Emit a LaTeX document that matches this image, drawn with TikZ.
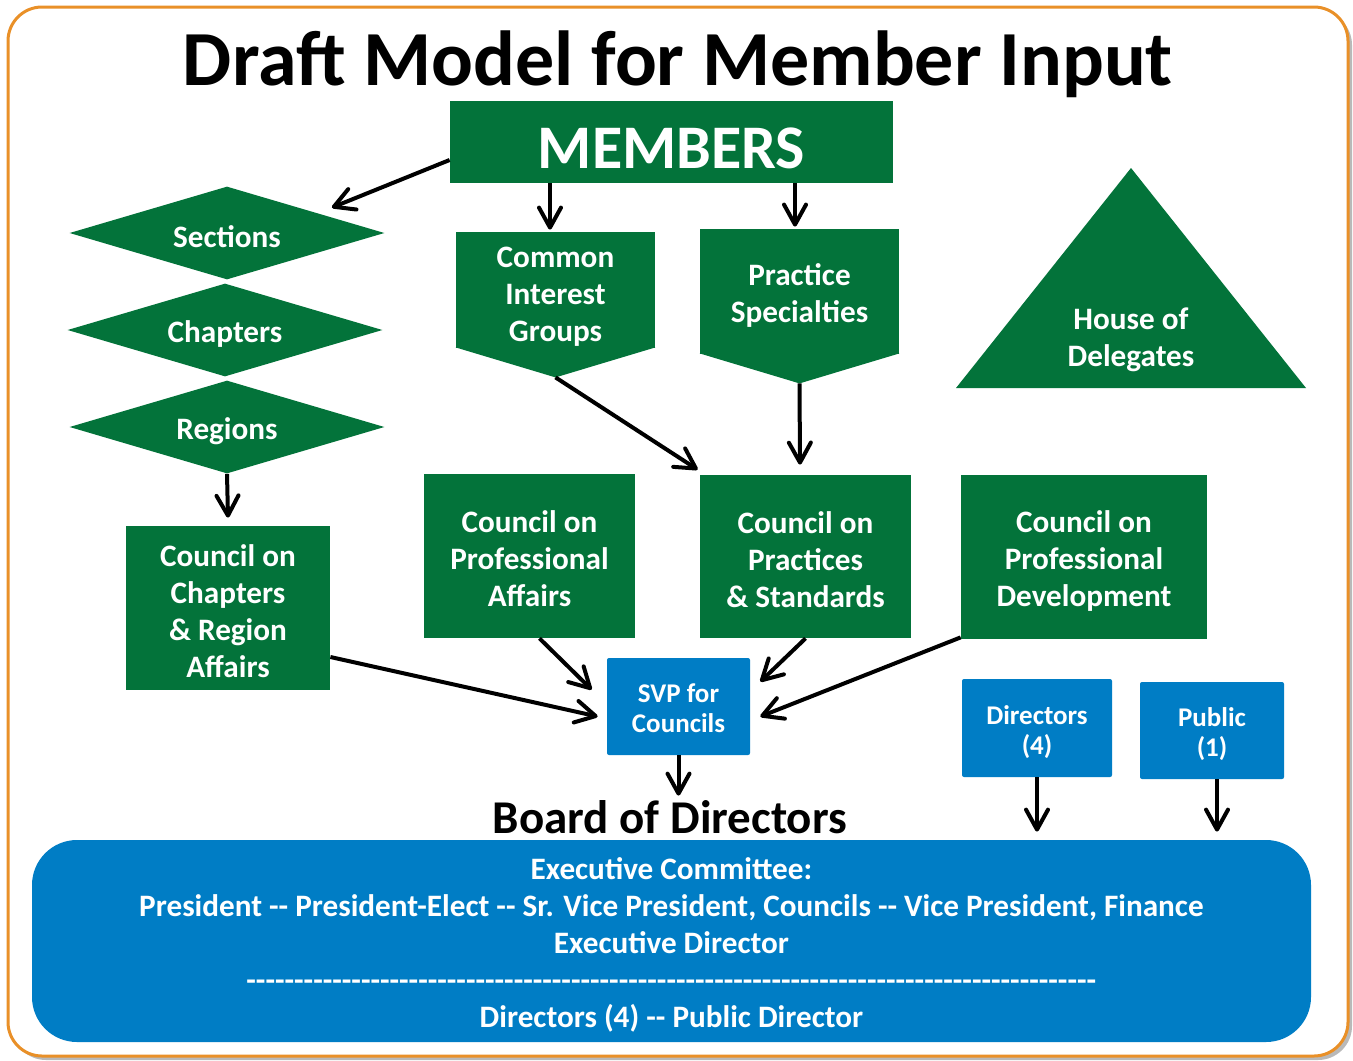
\documentclass[tikz,border=0pt]{standalone}
\usepackage{fontspec}
\setmainfont{Carlito}
\usetikzlibrary{arrows.meta,shapes.geometric}

\definecolor{apgreen}{RGB}{3,115,58}
\definecolor{apblue}{RGB}{0,125,197}
\definecolor{aporange}{RGB}{233,144,40}

% invisible strut that pushes a text block down a little
\newcommand\tstrut[1][15pt]{\rule{0pt}{#1}}

\tikzset{
  bodytext/.style={font=\bfseries\fontsize{15.6}{18.5}\selectfont, text=white, align=center},
  greenbox/.style={bodytext, fill=apgreen, inner sep=0pt},
  bluebox/.style={font=\bfseries\fontsize{13.5}{15}\selectfont, text=white, align=center,
    fill=apblue, rounded corners=1pt, inner sep=0pt},
  group/.style={diamond, aspect=3.4, fill=apgreen, bodytext, inner sep=0pt,
    minimum width=157.5pt, minimum height=46.5pt},
  arr/.style={line width=2pt, -{Straight Barb[length=10pt,width=11pt,round]}},
}

\begin{document}
\begin{tikzpicture}[x=0.5pt,y=-0.5pt]
  \useasboundingbox (0,0) rectangle (1353,1060);
  % frame
  \fill[gray!55, rounded corners=17pt] (12,11) rectangle (1352,1060);
  \draw[aporange, line width=1.5pt, fill=white, rounded corners=17pt] (8,7) rectangle (1348,1056);

  \node[anchor=base, inner sep=0pt, font=\bfseries\fontsize{39}{45}\selectfont] (title) at (678,85) {Draft Model for Member Input};

  \node[fill=apgreen, text=white, inner sep=0pt, minimum width=221.5pt, minimum height=41pt,
    font=\bfseries\fontsize{31}{36}\selectfont, text height=26pt, text depth=0pt] (members) at (671.5,142) {MEMBERS};

  % left column
  \node[group] (sections) at (227,233) {\tstrut Sections};
  \node[group] (chapters) at (225,330) {\tstrut Chapters};
  \node[group] (regions) at (227,427) {\tstrut Regions};

  % groups and specialties
  \node[greenbox, minimum width=99.5pt, minimum height=58pt] (cig) at (555.5,290) {\tstrut[17pt]Common\\Interest\\Groups};
  \fill[apgreen] ([yshift=0.5pt]cig.south west) -- ([yshift=0.5pt]cig.south east) -- ([yshift=-14.5pt]cig.south) -- cycle;
  \node[greenbox, minimum width=99.5pt, minimum height=62.5pt] (ps) at (799.5,291.5) {\tstrut Practice\\Specialties};
  \fill[apgreen] ([yshift=0.5pt]ps.south west) -- ([yshift=0.5pt]ps.south east) -- ([yshift=-14.5pt]ps.south) -- cycle;
  \coordinate (cigtip) at ([yshift=-14.5pt]cig.south);
  \coordinate (pstip) at ([yshift=-14.5pt]ps.south);

  % house of delegates
  \fill[apgreen] (1131,168) -- (1306,388) -- (956,388) -- cycle;
  \node[bodytext] (hod) at (1131,336) {\tstrut House of\\Delegates};

  % councils
  \node[greenbox, minimum width=102pt, minimum height=82pt] (ccra) at (228,608) {\tstrut[14pt]Council on\\Chapters\\\& Region\\Affairs};
  \node[greenbox, minimum width=105.5pt, minimum height=82pt] (cpa) at (529.5,556) {\tstrut[14pt]Council on\\Professional\\Affairs};
  \node[greenbox, minimum width=105.5pt, minimum height=81.5pt] (cps) at (805.5,556.5) {\tstrut[14pt]Council on\\Practices\\\& Standards};
  \node[greenbox, minimum width=123pt, minimum height=82pt] (cpd) at (1084,557) {\tstrut Council on\\Professional\\Development};

  \node[bluebox, minimum width=71.5pt, minimum height=48.5pt] (svp) at (678.5,706.5) {\tstrut[11.5pt]SVP for\\Councils};
  \node[bluebox, minimum width=75pt, minimum height=49pt] (dir) at (1037,728) {\tstrut[13.5pt]Directors\\(4)};
  \node[bluebox, minimum width=72pt, minimum height=48.5pt] (pub) at (1212,730.5) {\tstrut[13.5pt]Public\\(1)};
  \coordinate (pubout) at ([xshift=2.5pt]pub.south);

  \node[anchor=base, inner sep=0pt, font=\bfseries\fontsize{23.5}{26}\selectfont] (bod) at (670,833) {Board of Directors};

  % board
  \node[bodytext, fill=apblue, rounded corners=22.5pt, minimum width=639.5pt, minimum height=101pt, inner sep=0pt]
    (exec) at (671.5,941) {\tstrut Executive Committee:\\
    President -\kern0pt- President-Elect -\kern0pt- Sr. Vice President, Councils -\kern0pt- Vice President, Finance\\
    Executive Director\\
    \foreach \i in {1,...,89}{-\kern0pt}\\
    Directors (4) -\kern0pt- Public Director};

  % arrows
  \draw[arr] ([yshift=-9pt]members.west) -- ([shift={(13pt,1pt)}]sections.north east);
  \draw[arr] ([xshift=-60.75pt]members.south) -- ([xshift=-2.75pt,yshift=1pt]cig.north);
  \draw[arr] ([xshift=61.75pt]members.south) -- ([xshift=-2.25pt,yshift=1pt]ps.north);
  \draw[arr] (regions.south) -- ([yshift=4pt]ccra.north);
  \draw[arr] (cigtip) -- ([shift={(-1pt,2.5pt)}]cps.north west);
  \draw[arr] (pstip) -- ([xshift=-2.75pt,yshift=5pt]cps.north);
  \draw[arr] ([yshift=-24.5pt]ccra.east) -- ([shift={(-4.5pt,-5pt)}]svp.west);
  \draw[arr] ([xshift=5pt]cpa.south) -- ([shift={(-7.5pt,-16pt)}]svp.north west);
  \draw[arr] (cps.south) -- ([shift={(5pt,-12pt)}]svp.north east);
  \draw[arr] ([yshift=1pt]cpd.south west) -- ([shift={(5pt,-5pt)}]svp.east);
  \draw[arr, shorten >=2pt] (svp.south) -- (svp.south |- bod.north);
  \draw[arr, shorten >=4pt] (dir.south) -- (dir.south |- exec.north);
  \draw[arr, shorten >=4pt] (pubout) -- (pubout |- exec.north);
\end{tikzpicture}
\end{document}
